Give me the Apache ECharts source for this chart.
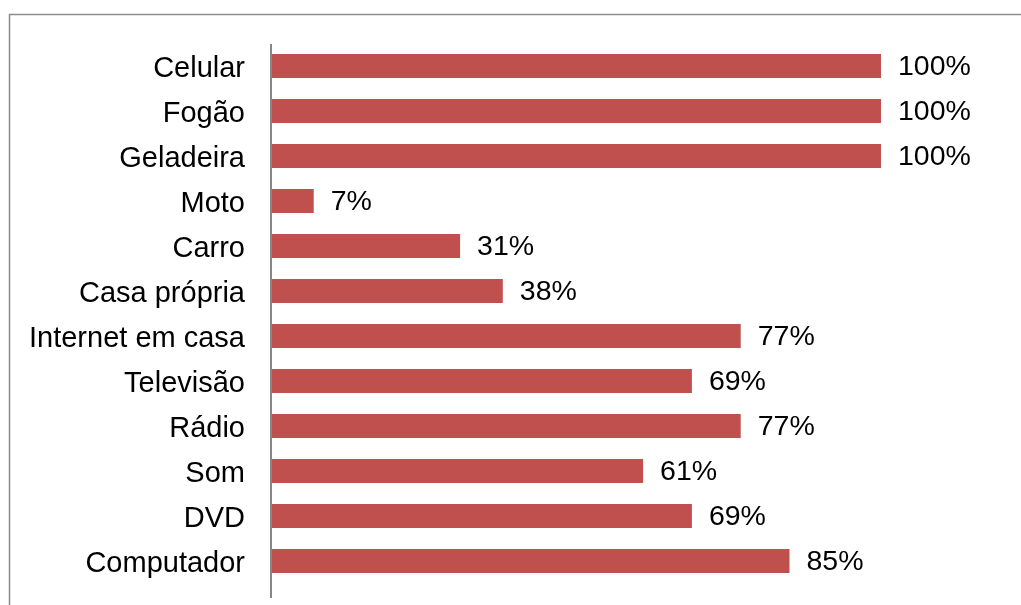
<!DOCTYPE html>
<html>
<head>
<meta charset="utf-8">
<script src="https://cdn.jsdelivr.net/npm/echarts@6/dist/echarts.min.js"></script>
<style>
  html, body { margin: 0; padding: 0; background: #fff; }
  #chart { width: 1021px; height: 605px; }
</style>
</head>
<body>
<div id="chart"></div>
<script>
// Itens possuídos (%), de cima para baixo
const categories = [
  'Celular', 'Fogão', 'Geladeira', 'Moto', 'Carro', 'Casa própria',
  'Internet em casa', 'Televisão', 'Rádio', 'Som', 'DVD', 'Computador'
];
const values = [100, 100, 100, 7, 31, 38, 77, 69, 77, 61, 69, 85];

const FONT = '"Liberation Sans", Arial, sans-serif';

const chart = echarts.init(document.getElementById('chart'), null, { renderer: 'canvas' });

chart.setOption({
  backgroundColor: '#ffffff',
  animation: false,
  graphic: [
    // moldura da área do gráfico (lados superior e esquerdo visíveis)
    {
      type: 'rect',
      shape: { x: 9.5, y: 14.5, width: 1100, height: 700 },
      style: { fill: 'none', stroke: '#8c8c8c', lineWidth: 1.5 },
      silent: true,
      z: 0
    },
    // linha do eixo de categorias
    {
      type: 'line',
      shape: { x1: 271, y1: 44, x2: 271, y2: 598 },
      style: { stroke: '#878787', lineWidth: 2 },
      silent: true,
      z: 10
    }
  ],
  grid: {
    left: 271,
    top: 43.5,
    width: 610,
    height: 540,
    containLabel: false
  },
  xAxis: {
    type: 'value',
    min: 0,
    max: 100,
    show: false
  },
  yAxis: {
    type: 'category',
    data: categories,
    inverse: true,
    axisLine: { show: false },
    axisTick: { show: false },
    splitLine: { show: false },
    axisLabel: {
      margin: 26,
      formatter: '{t|{value}}',
      rich: {
        t: {
          color: '#000',
          fontFamily: FONT,
          fontSize: 29,
          padding: [5, 0, 0, 0]
        }
      }
    }
  },
  series: [{
    type: 'bar',
    data: values,
    barWidth: 24,
    itemStyle: { color: '#C0504D' },
    label: {
      show: true,
      position: 'right',
      distance: 17,
      offset: [0, 1.5],
      formatter: '{c}%',
      color: '#000',
      fontFamily: FONT,
      fontSize: 28.5
    }
  }]
});
</script>
</body>
</html>
